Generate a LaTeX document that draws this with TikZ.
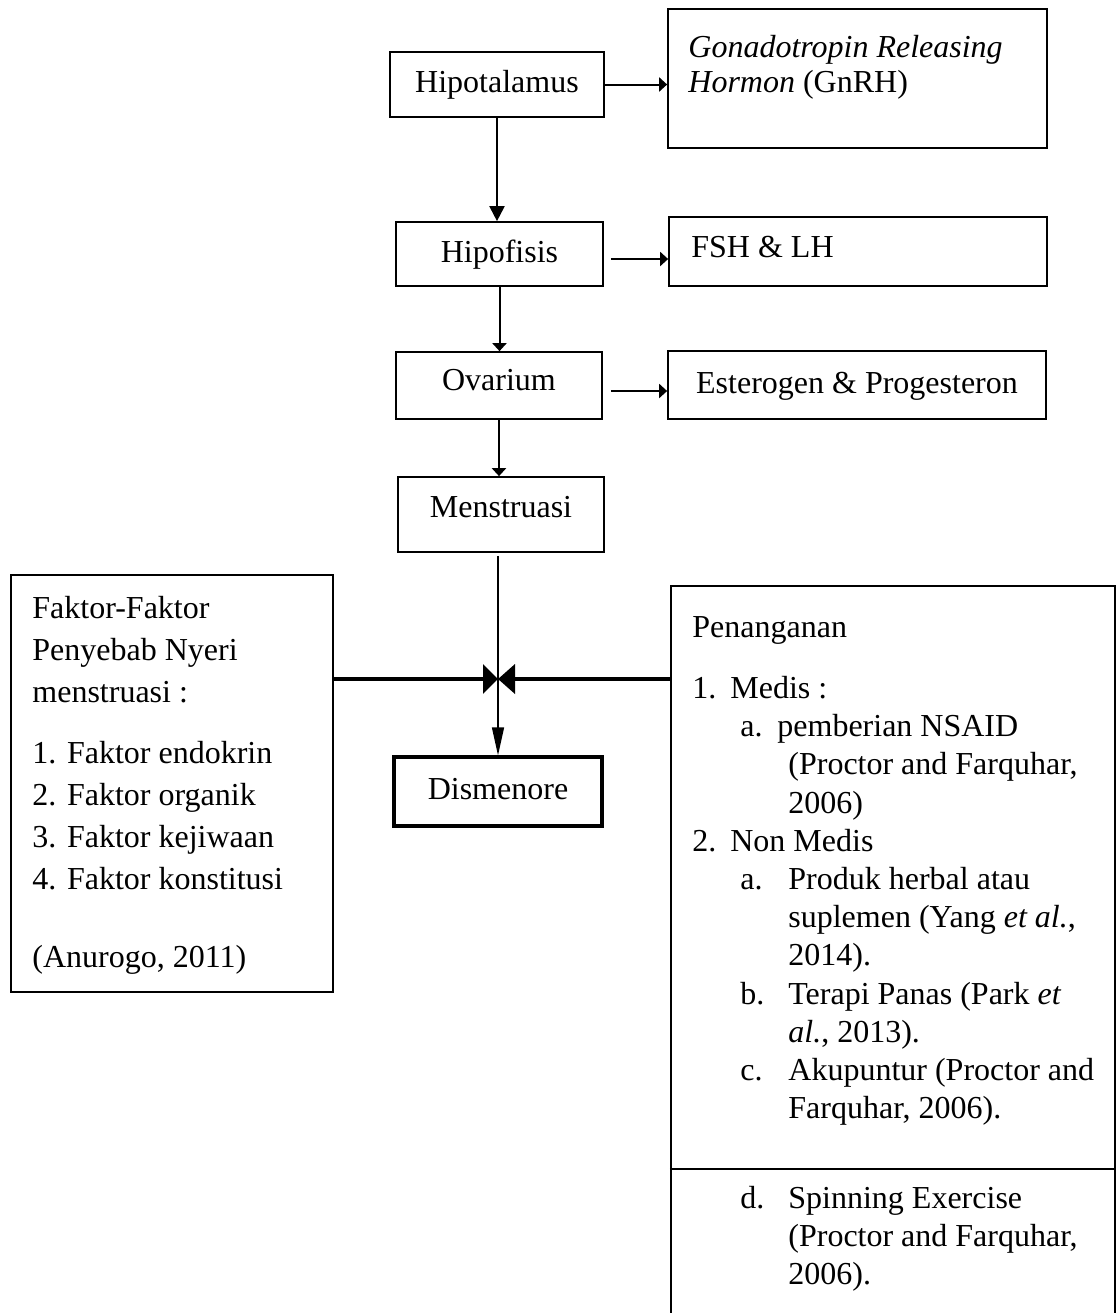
\documentclass[tikz,border=0pt]{standalone}
\usepackage{fontspec}
\setmainfont{Liberation Serif}
\usetikzlibrary{arrows.meta,fit,calc}
\newcommand{\firststrut}{\rule{0pt}{12pt}}
\begin{document}
\begin{tikzpicture}[x=0.5pt,y=-0.5pt,
  every node/.style={font=\fontsize{16pt}{19.1pt}\selectfont},
  box/.style={draw, line width=0.85pt, inner sep=0pt},
  lbox/.style={draw, line width=0.85pt, inner sep=0pt, text height=12pt, text depth=4pt},
  bigbox/.style={draw, line width=1.1pt, inner sep=0pt},
  txt/.style={inner sep=0pt, align=left, anchor=north west},
  conn/.style={line width=1pt},
  hd/.style={-{Triangle[length=4pt,width=7pt]}},
  heavy/.style={line width=2pt}
]
\useasboundingbox (0,0) rectangle (1117,1313);
\clip (0,0) rectangle (1117,1313);
\fill[white] (0,0) rectangle (1117,1313);

% main column
\node[lbox, minimum width=107pt, minimum height=32.5pt] (hipo) at (497,84.5) {Hipotalamus};
\node[lbox, minimum width=103.5pt, minimum height=32pt] (hipof) at (499.5,254) {Hipofisis};
\node[lbox, text depth=7.5pt, minimum width=103pt, minimum height=33.5pt] (ova) at (499,385.5) {Ovarium};
\node[lbox, text depth=9.5pt, minimum width=103pt, minimum height=37.5pt] (mens) at (501,514.5) {Menstruasi};
\node[lbox, line width=1.65pt, minimum width=104pt, minimum height=34.5pt] (dis) at (498,791.5) {Dismenore};

% right column
\node[box, fit={(668,9) (1047,148)}] (gnrh) {};
\node[txt, font=\fontsize{16pt}{17.5pt}\selectfont] (gnrhT) at (688,33) {\firststrut\textit{Gonadotropin Releasing}\\\textit{Hormon} (GnRH)};
\node[box, fit={(669,217) (1047,286)}] (fsh) {};
\node[inner sep=0pt, anchor=base west] (fshT) at (691,257) {FSH \& LH};
\node[lbox, minimum width=189pt, minimum height=34pt] (estro) at (857,385) {Esterogen \& Progesteron};

% left box
\node[bigbox, fit={(11,575) (333,992)}] (faktor) {};
\node[txt, font=\fontsize{16pt}{21pt}\selectfont] (faktorT) at (32,594) {\firststrut Faktor-Faktor\\Penyebab Nyeri\\menstruasi :\\[9.5pt]1. Faktor endokrin\\2. Faktor organik\\3. Faktor kejiwaan\\4. Faktor konstitusi\\[18pt](Anurogo, 2011)};

% right box
\node[bigbox, fit={(671,586) (1115,1340)}] (penang) {};
\coordinate (divy) at (0,1169);
\draw[line width=1.1pt] (penang.west |- divy) -- (penang.east |- divy);
\node[txt] (penT) at (692,613) {\firststrut Penanganan\\[11.4pt]
\makebox[19pt][l]{1.}Medis :\\
\hspace*{24pt}\makebox[18.5pt][l]{a.}pemberian NSAID\\
\hspace*{48pt}(Proctor and Farquhar,\\
\hspace*{48pt}2006)\\
\makebox[19pt][l]{2.}Non Medis\\
\hspace*{24pt}\makebox[24pt][l]{a.}Produk herbal atau\\
\hspace*{48pt}suplemen (Yang \textit{et al.},\\
\hspace*{48pt}2014).\\
\hspace*{24pt}\makebox[24pt][l]{b.}Terapi Panas (Park \textit{et}\\
\hspace*{48pt}\textit{al.}, 2013).\\
\hspace*{24pt}\makebox[24pt][l]{c.}Akupuntur (Proctor and\\
\hspace*{48pt}Farquhar, 2006).};
\node[txt] (penT2) at (692,1184) {\firststrut\hspace*{24pt}\makebox[24pt][l]{d.}Spinning Exercise\\
\hspace*{48pt}(Proctor and Farquhar,\\
\hspace*{48pt}2006).};

% connectors
\coordinate (J) at (498,679);
\draw[conn, hd] (hipo.east) -- (hipo.east -| gnrh.west);
\draw[conn, -{Triangle[length=7.5pt,width=7.5pt]}] (hipo.south) -- (hipo.south |- hipof.north);
\coordinate (hfs) at ([shift={(7,5)}]hipof.east);
\draw[conn, hd] (hfs) -- (hfs -| fsh.west);
\draw[conn, hd] (hipof.south) -- (hipof.south |- ova.north);
\coordinate (oes) at ([shift={(8,5.5)}]ova.east);
\draw[conn, hd] (oes) -- (oes -| estro.west);
\draw[conn, hd] (ova.south) -- (ova.south |- mens.north);
\draw[line width=0.7pt, shorten <=1.5pt] (mens.south -| J) -- (J);
\draw[line width=0.7pt, -{Triangle[length=14pt,width=6pt]}] (J) -- (J |- dis.north);
\draw[heavy, -{Triangle[length=7.5pt,width=14.5pt]}] (faktor.east |- J) -- (J);
\draw[heavy, -{Triangle[length=8.5pt,width=14.5pt]}] (penang.west |- J) -- (J);
\end{tikzpicture}
\end{document}
